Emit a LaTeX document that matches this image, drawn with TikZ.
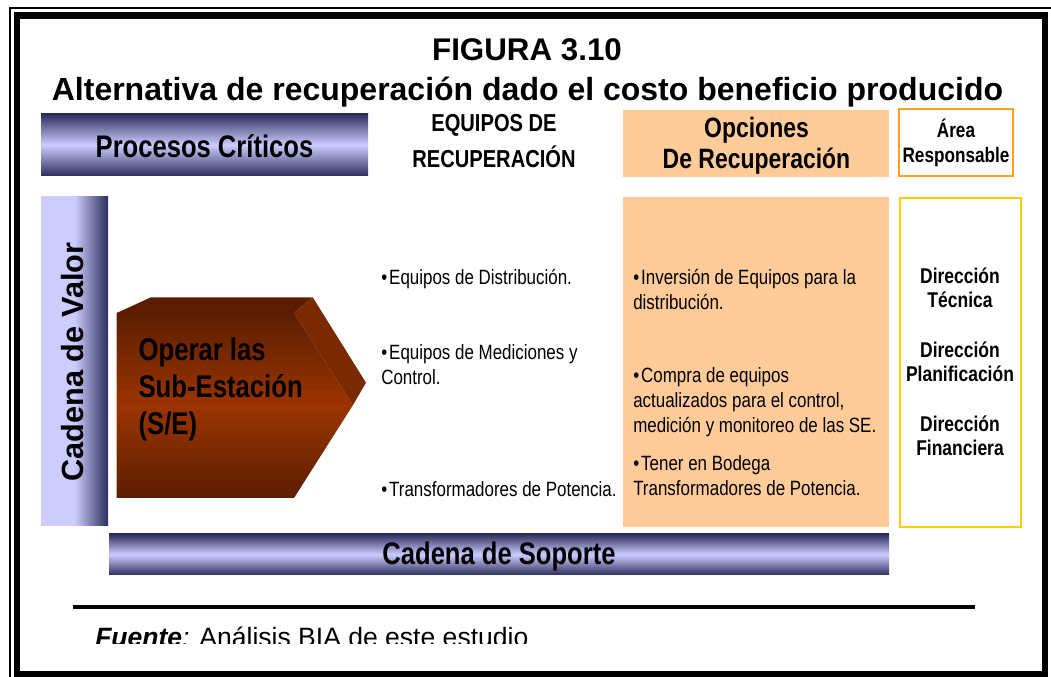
\documentclass[tikz,border=0pt]{standalone}
\usepackage{fontspec}
\setmainfont{Liberation Sans}
\newfontfamily\narrowsf[FakeStretch=0.82]{Liberation Sans}
\definecolor{navyband}{RGB}{45,45,92}
\definecolor{lightband}{RGB}{204,204,255}
\definecolor{peach}{RGB}{255,204,153}
\definecolor{areaorange}{RGB}{250,160,25}
\definecolor{areagold}{RGB}{255,204,0}
\definecolor{rustmid}{RGB}{155,52,0}
\definecolor{rustdark}{RGB}{92,30,0}
\definecolor{rusttop}{RGB}{90,29,0}
\definecolor{rustside}{RGB}{122,41,0}
\newcommand{\itembul}{•\kern1.5pt}
\begin{document}
\begin{tikzpicture}[x=0.75pt,y=0.75pt,yscale=-1,xscale=1,
	bandlbl/.style={inner sep=0pt,font=\narrowsf\bfseries\fontsize{23.4}{28}\selectfont},
	headlbl/.style={anchor=base,inner sep=0pt,align=center,font=\narrowsf\bfseries\fontsize{21}{23.3}\selectfont},
	itemlbl/.style={anchor=base west,inner sep=0pt,align=left,font=\narrowsf\fontsize{15.5}{18.75}\selectfont},
	arealbl/.style={anchor=base,inner sep=0pt,align=center,font=\narrowsf\bfseries\fontsize{16}{18}\selectfont}]
	\useasboundingbox (0,0) rectangle (1051,677);
	
	%Shape: Frame
	\draw [line width=1.1pt]   (10,690) -- (10,8) -- (1060,8) ;
	\draw [line width=5pt]   (17,15.5) rectangle (1045,674.5) ;
	
	% Text Node
	\draw (527,61) node (figura) [anchor=base][inner sep=0pt] {\bfseries\fontsize{23.5}{28}\selectfont FIGURA 3.10};
	% Text Node
	\draw (527.5,101) node (titulo) [anchor=base][inner sep=0pt] {\bfseries\fontsize{24}{28}\selectfont Alternativa de recuperación dado el costo beneficio producido};
	
	%Shape: Rectangle
	\shade [top color=navyband,bottom color=navyband,middle color=lightband]  (41,114) rectangle (368,176) ;
	\draw (204.5,146) node (procesos) [bandlbl] {Procesos Críticos};
	
	% Text Node (last line on the base point)
	\draw (494,168) node (equipos) [anchor=base][inner sep=0pt][align=center][font=\narrowsf\bfseries\fontsize{18.4}{27}\selectfont] {EQUIPOS DE\\RECUPERACIÓN};
	
	%Shape: Rectangle
	\fill [peach]  (623,110) rectangle (889,177) ;
	\draw (756.5,168.3) node (opciones) [headlbl] {Opciones\\De Recuperación};
	
	%Shape: Rectangle
	\draw [areaorange,line width=1.5pt]  (899,109) rectangle (1013,176) ;
	\draw (956,163) node (area) [arealbl,font=\narrowsf\bfseries\fontsize{15.7}{18.75}\selectfont] {Área\\Responsable};
	
	%Shape: Rectangle
	\shade [left color=lightband,right color=navyband,middle color=lightband]  (41,197) rectangle (108,526) ;
	\draw (83.3,362) node (valor) [anchor=base][inner sep=0pt][rotate=90] {\bfseries\fontsize{23}{28}\selectfont Cadena de Valor};
	
	%Shape: Arrow (front, top and side faces)
	\shade [top color=rustdark,bottom color=rustdark,middle color=rustmid]  (116.7,313) -- (294,313) -- (353,405) -- (294,498) -- (116.7,498) -- cycle ;
	\fill [rusttop]  (116.7,313) -- (151,297.3) -- (312.7,297.3) -- (294,313) -- cycle ;
	\fill [rustside]  (294,313) -- (312.7,297.3) -- (366,382.7) -- (353,405) -- cycle ;
	\draw (138.3,435) node (operar) [anchor=base west][inner sep=0pt][align=left][font=\narrowsf\bfseries\fontsize{23.5}{27.75}\selectfont] {Operar las\\Sub-Estación\\(S/E)};
	
	% Text Node
	\draw (381,285) node (eqdist) [itemlbl] {\itembul Equipos de Distribución.};
	\draw (381,385) node (eqmed) [itemlbl] {\itembul Equipos de Mediciones y\\Control.};
	\draw (381,497) node (eqtrans) [itemlbl] {\itembul Transformadores de Potencia.};
	
	%Shape: Rectangle
	\fill [peach]  (623,197) rectangle (889,527) ;
	\draw (633,310) node (opinv) [itemlbl] {\itembul Inversión de Equipos para la\\distribución.};
	\draw (633,433) node (opcompra) [itemlbl] {\itembul Compra de equipos\\actualizados para el control,\\medición y monitoreo de las SE.};
	\draw (633,496) node (opbodega) [itemlbl] {\itembul Tener en Bodega\\Transformadores de Potencia.};
	
	%Shape: Rectangle
	\draw [areagold,line width=1.5pt]  (900,198) rectangle (1021,527) ;
	\draw (960,308) node (dirtec) [arealbl] {Dirección\\Técnica};
	\draw (960,382) node (dirplan) [arealbl] {Dirección\\Planificación};
	\draw (960,456) node (dirfin) [arealbl] {Dirección\\Financiera};
	
	%Shape: Rectangle
	\shade [top color=navyband,bottom color=navyband,middle color=lightband]  (109,534) rectangle (889,575) ;
	\draw (499,556) node (soporte) [bandlbl] {Cadena de Soporte};
	
	%Straight Lines
	\draw [line width=3.4pt]   (73,607) -- (975,607) ;
	
	% Text Node
	\begin{scope}
		\clip (60,600) rectangle (700,643.5);
		\draw (95,646) node (fuente) [anchor=base west][inner sep=0pt] {\fontsize{19.9}{24}\selectfont\textbf{\textit{Fuente}}\textit{:} Análisis BIA de este estudio};
	\end{scope}
\end{tikzpicture}
\end{document}
